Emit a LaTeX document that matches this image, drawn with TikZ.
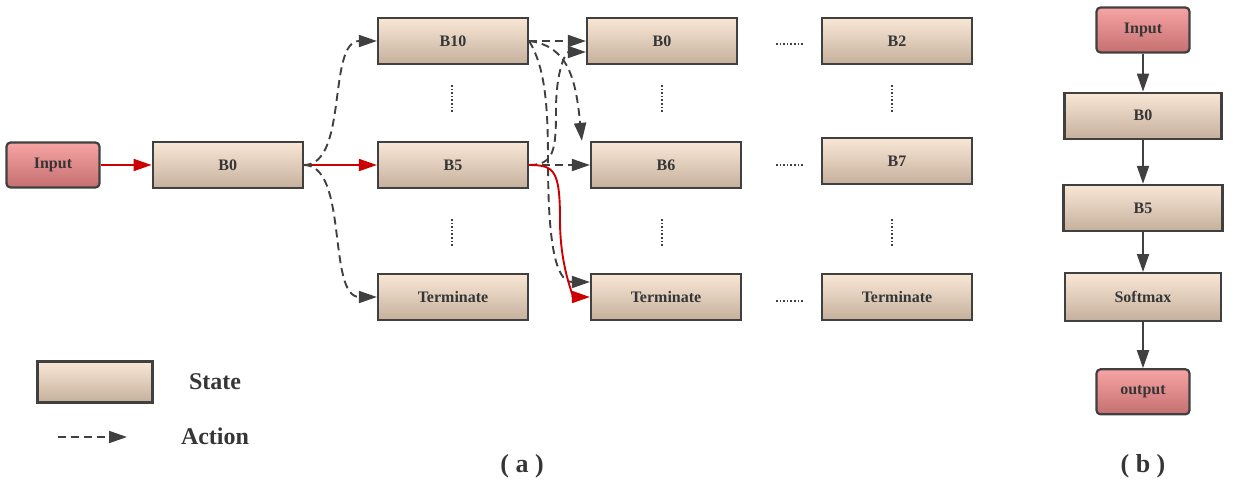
\documentclass[tikz,border=0pt]{standalone}
\usepackage{fontspec}
\setmainfont{Liberation Serif}
\usetikzlibrary{positioning,arrows.meta,calc}

\definecolor{boxtop}{HTML}{F9E7D6}
\definecolor{boxbot}{HTML}{C5B09C}
\definecolor{intop}{HTML}{F7A4A4}
\definecolor{inbot}{HTML}{C56F70}
\definecolor{edge}{HTML}{404040}
\definecolor{txt}{HTML}{363636}
\definecolor{redline}{HTML}{CC0000}

\tikzstyle{block} = [draw=edge, line width=2.2pt, top color=boxtop, bottom color=boxbot, rectangle,
    minimum height=46pt, minimum width=150pt, text=txt, font=\bfseries\fontsize{16}{16}\selectfont]
\tikzstyle{io} = [block, rounded corners=4pt, top color=intop, bottom color=inbot,
    minimum width=93pt, minimum height=45pt]
\tikzstyle{label} = [text=txt, font=\bfseries\fontsize{24}{24}\selectfont]
\tikzstyle{act} = [draw=edge, line width=1.9pt, dash pattern=on 8pt off 5pt, -{Triangle[length=18pt,width=12pt]}]
\tikzstyle{best} = [draw=redline, line width=1.9pt, -{Triangle[length=18pt,width=12pt]}]
\tikzstyle{flow} = [draw=edge, line width=1.9pt, -{Triangle[length=18pt,width=12pt]}]
\tikzstyle{gap} = [draw=edge, line width=1.6pt, dash pattern=on 1.6pt off 2pt]

\begin{document}
\begin{tikzpicture}[x=1pt, y=-1pt]
    \useasboundingbox (0,0) rectangle (1237,488);

    % (a) search over blocks
    \node [io] (in) at (53,165) {Input};
    \node [block, right=51pt of in] (b0) {B0};
    \node [block] (b10) at (453,41) {B10};
    \node [block] (b5) at (453,165) {B5};
    \node [block] (t1) at (453,297) {Terminate};
    \node [block] (c0) at (662,41) {B0};
    \node [block] (b6) at (666,165) {B6};
    \node [block] (t2) at (666,297) {Terminate};
    \node [block] (b2) at (897,41) {B2};
    \node [block] (b7) at (897,161) {B7};
    \node [block] (t3) at (897,297) {Terminate};

    \foreach \y in {44,165,301}
        \draw [gap] (776,\y) -- (803,\y);
    \foreach \x in {452,662,892}
        \foreach \y in {85,219}
            \draw [gap] (\x,\y) -- (\x,\y+28);

    \draw [best] (in) -- (b0);
    \draw [best] (b0) -- (b5);
    \draw [act] (b0.east) .. controls +(45,0) and +(-50,0) .. (b10.west);
    \draw [act] (b0.east) .. controls +(45,0) and +(-50,0) .. (t1.west);

    \draw [act] (b10.east) -- (c0.west);
    \draw [act] (b10.east) .. controls +(40,5) and +(-6,-60) .. ($(b6.north west)+(-8,0)$);
    \draw [act] (b10.east) .. controls +(15,25) and +(0,-60) .. (548,160)
        .. controls +(0,80) and +(-35,0) .. ($(t2.west)+(0,-15)$);
    \draw [act] (b5.east) .. controls +(25,0) and +(0,40) .. (556,110)
        .. controls +(0,-40) and +(-20,0) .. ($(c0.west)+(0,11)$);
    \draw [act] (b5.east) -- (b6.west);
    \draw [best] (b5.east) .. controls +(25,0) and +(0,-50) .. (560,220)
        .. controls +(0,50) and +(-15,0) .. (t2.west);

    % legend
    \node [block, minimum width=115pt, minimum height=41pt] (key) at (95,382) {};
    \node [label] (state) at (215,382) {State};
    \coordinate (from) at (58,437);
    \coordinate (to) at (127,437);
    \draw [act] (from) -- (to);
    \node [label] (action) at (215,436) {Action};
    \node [label, font=\bfseries\fontsize{26}{26}\selectfont] (capa) at (522,466) {( a )};

    % (b) chosen path
    \node [io] (pin) at (1143,30) {Input};
    \node [block, minimum width=157pt, below=38pt of pin] (pb0) {B0};
    \node [block, minimum width=159pt, below=44pt of pb0] (pb5) {B5};
    \node [block, minimum width=156pt, minimum height=48pt, below=40pt of pb5] (psm) {Softmax};
    \node [io, below=46pt of psm] (pout) {output};
    \draw [flow] (pin) -- (pb0);
    \draw [flow] (pb0) -- (pb5);
    \draw [flow] (pb5) -- (psm);
    \draw [flow] (psm) -- (pout);
    \node [label, font=\bfseries\fontsize{26}{26}\selectfont] (capb) at (1143,466) {( b )};
\end{tikzpicture}
\end{document}
